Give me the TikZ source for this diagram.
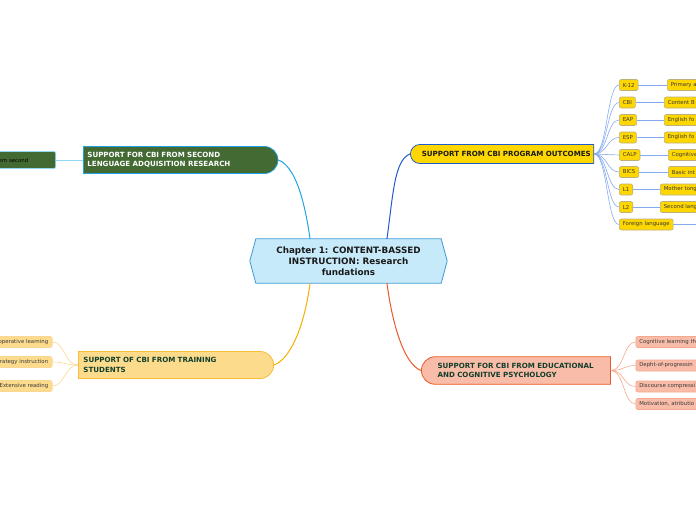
\documentclass[tikz,border=0pt]{standalone}
\usepackage{fontspec}
\setmainfont{DejaVu Sans}
\usetikzlibrary{shapes.misc,backgrounds}

\definecolor{rootfill}{HTML}{C6EAFA}
\definecolor{rootline}{HTML}{3D9AD6}
\definecolor{roottext}{HTML}{1A1A1A}
\definecolor{progfill}{HTML}{FFD700}
\definecolor{progline}{HTML}{1F5BCB}
\definecolor{progleaf}{HTML}{86ABF0}
\definecolor{progleafline}{HTML}{BDB07A}
\definecolor{slafill}{HTML}{436A33}
\definecolor{slaline}{HTML}{1FA3E5}
\definecolor{slaleaf}{HTML}{93D6F4}
\definecolor{trainfill}{HTML}{FDDB8D}
\definecolor{trainline}{HTML}{F6BD35}
\definecolor{trainbranch}{HTML}{F8AE00}
\definecolor{trainleaf}{HTML}{FCD794}
\definecolor{psyfill}{HTML}{F9BCA8}
\definecolor{psyline}{HTML}{EA5A28}
\definecolor{psyleaf}{HTML}{F5A88E}
\definecolor{topictext}{HTML}{123F2C}
\definecolor{leaftext}{HTML}{3A3A3A}

\tikzset{
  topic/.style={rounded rectangle, draw, line width=0.8pt, align=left,
    font=\fontsize{7.1}{9.5}\selectfont\bfseries, inner ysep=2pt, anchor=west},
  leaf/.style={draw, rounded corners=2pt, line width=0.6pt, minimum height=11pt,
    inner xsep=3.5pt, inner ysep=0pt, text=leaftext,
    font=\fontsize{5.4}{6}\selectfont},
  branch/.style={line width=1pt},
  twig/.style={line width=0.6pt},
}

\begin{document}
\begin{tikzpicture}[x=1pt,y=-1pt]
	\useasboundingbox (0,0) rectangle (696,520);
	\clip (0,0) rectangle (696,520);

	% Centre
	\node[font=\fontsize{8.8}{10.8}\selectfont\bfseries, text=roottext, align=center,
	  minimum width=185pt, minimum height=44pt, inner sep=0pt] (root) at (348.5,261)
	  {Chapter 1: CONTENT-BASSED\\INSTRUCTION: Research\\fundations};
	\begin{scope}[on background layer]
		\filldraw[fill=rootfill, draw=rootline, line width=0.8pt]
		  (root.north west) -- (root.north east) -- ([xshift=6pt]root.east)
		  -- (root.south east) -- (root.south west) -- ([xshift=-6pt]root.west) -- cycle;
	\end{scope}

	% Topics
	\node[topic, rounded rectangle east arc=none, fill=progfill, draw=progline,
	  text=roottext, text width=177pt, align=right, inner xsep=3pt, minimum height=19pt]
	  (prog) at (410,154) {SUPPORT FROM CBI PROGRAM OUTCOMES};
	\node[topic, rounded rectangle west arc=none, fill=slafill, draw=slaline,
	  text=white, text width=184pt, inner xsep=4pt, minimum height=27pt]
	  (sla) at (83,160) {SUPPORT FOR CBI FROM SECOND\\LENGUAGE ADQUISITION RESEARCH};
	\node[topic, rounded rectangle west arc=none, fill=trainfill, draw=trainline,
	  text=topictext, text width=183pt, inner xsep=5pt, minimum height=27pt]
	  (train) at (78,365) {SUPPORT OF CBI FROM TRAINING\\STUDENTS};
	\node[topic, rounded rectangle east arc=none, fill=psyfill, draw=psyline,
	  text=topictext, text width=159pt, inner xsep=14pt, minimum height=27.5pt]
	  (psy) at (421,370.5) {SUPPORT FOR CBI FROM EDUCATIONAL\\AND COGNITIVE PSYCHOLOGY};

	\draw[branch, slaline] (root.150) .. controls +(-6,-42) and +(16,6) .. (sla.east);
	\draw[branch, progline] (root.30) .. controls +(6,-42) and +(-16,6) .. (prog.west);
	\draw[branch, trainbranch] (root.210) .. controls +(-6,45) and +(16,-6) .. (train.east);
	\draw[branch, psyline] (root.330) .. controls +(6,45) and +(-16,-6) .. (psy.west);

	% Program outcomes
	\node[leaf, fill=progfill, draw=progleafline, anchor=west] (k12) at (619,85) {K-12};
	\node[leaf, fill=progfill, draw=progleafline, anchor=west] (cbi) at (619,102.5) {CBI};
	\node[leaf, fill=progfill, draw=progleafline, anchor=west] (eap) at (619,120) {EAP};
	\node[leaf, fill=progfill, draw=progleafline, anchor=west] (esp) at (619,137.5) {ESP};
	\node[leaf, fill=progfill, draw=progleafline, anchor=west] (calp) at (619,155) {CALP};
	\node[leaf, fill=progfill, draw=progleafline, anchor=west] (bics) at (619,172) {BICS};
	\node[leaf, fill=progfill, draw=progleafline, anchor=west] (lone) at (619,189.5) {L1};
	\node[leaf, fill=progfill, draw=progleafline, anchor=west] (ltwo) at (619,207) {L2};
	\node[leaf, fill=progfill, draw=progleafline, anchor=west] (foreign) at (619,224.5) {Foreign language};

	\node[leaf, fill=progfill, draw=progleafline, anchor=west, text width=60pt] (k12-def) at (667,85) {Primary a};
	\node[leaf, fill=progfill, draw=progleafline, anchor=west, text width=60pt] (cbi-def) at (664,102.5) {Content B};
	\node[leaf, fill=progfill, draw=progleafline, anchor=west, text width=60pt] (eap-def) at (664,120) {English fo};
	\node[leaf, fill=progfill, draw=progleafline, anchor=west, text width=60pt] (esp-def) at (664,137.5) {English fo};
	\node[leaf, fill=progfill, draw=progleafline, anchor=west, text width=60pt] (calp-def) at (668,155) {Cognitive};
	\node[leaf, fill=progfill, draw=progleafline, anchor=west, text width=60pt] (bics-def) at (668,172) {Basic int};
	\node[leaf, fill=progfill, draw=progleafline, anchor=west, text width=60pt] (lone-def) at (660,189.5) {Mother tong};
	\node[leaf, fill=progfill, draw=progleafline, anchor=west, text width=60pt] (ltwo-def) at (660,207) {Second lang};
	\coordinate (foreign-end) at (700,224.5);

	\foreach \n in {k12,cbi,eap,esp,calp,bics,lone,ltwo,foreign}
		\draw[twig, progleaf] (prog.east) .. controls +(13,0) and +(-12,0) .. (\n.west);
	\foreach \n in {k12,cbi,eap,esp,calp,bics,lone,ltwo}
		\draw[twig, progleaf] (\n.east) -- (\n-def.west);
	\draw[twig, progleaf] (foreign.east) -- (foreign-end);

	% Second language acquisition
	\node[leaf, fill=slafill, draw=slaleaf, text=black, anchor=east, text width=53.5pt,
	  minimum height=17pt] (sla-one) at (56,160) {em second};
	\draw[twig, slaleaf] (sla.west) -- (sla-one.east);

	% Training students
	\node[leaf, fill=trainfill, draw=trainleaf, anchor=east, text width=60pt, align=right, inner xsep=4pt] (coop) at (52.5,342) {operative learning};
	\node[leaf, fill=trainfill, draw=trainleaf, anchor=east, text width=60pt, align=right, inner xsep=4pt] (strat) at (52.5,362) {rategy instruction};
	\node[leaf, fill=trainfill, draw=trainleaf, anchor=east, text width=60pt, align=right, inner xsep=4pt] (reading) at (52.5,386) {Extensive reading};
	\foreach \n in {coop,strat,reading}
		\draw[twig, trainleaf] (train.west) .. controls +(-13,0) and +(12,0) .. (\n.east);

	% Educational and cognitive psychology
	\node[leaf, fill=psyfill, draw=psyleaf, anchor=west, text width=80pt] (cogn) at (635.5,342) {Cognitive learning th};
	\node[leaf, fill=psyfill, draw=psyleaf, anchor=west, text width=80pt] (depth) at (635.5,365.5) {Depht-of-progressin};
	\node[leaf, fill=psyfill, draw=psyleaf, anchor=west, text width=80pt] (disc) at (635.5,386.5) {Discourse compressi};
	\node[leaf, fill=psyfill, draw=psyleaf, anchor=west, text width=80pt] (motiv) at (635.5,404) {Motivation, atributio};
	\foreach \n in {cogn,depth,disc,motiv}
		\draw[twig, psyleaf] (psy.east) .. controls +(13,0) and +(-12,0) .. (\n.west);
\end{tikzpicture}
\end{document}
